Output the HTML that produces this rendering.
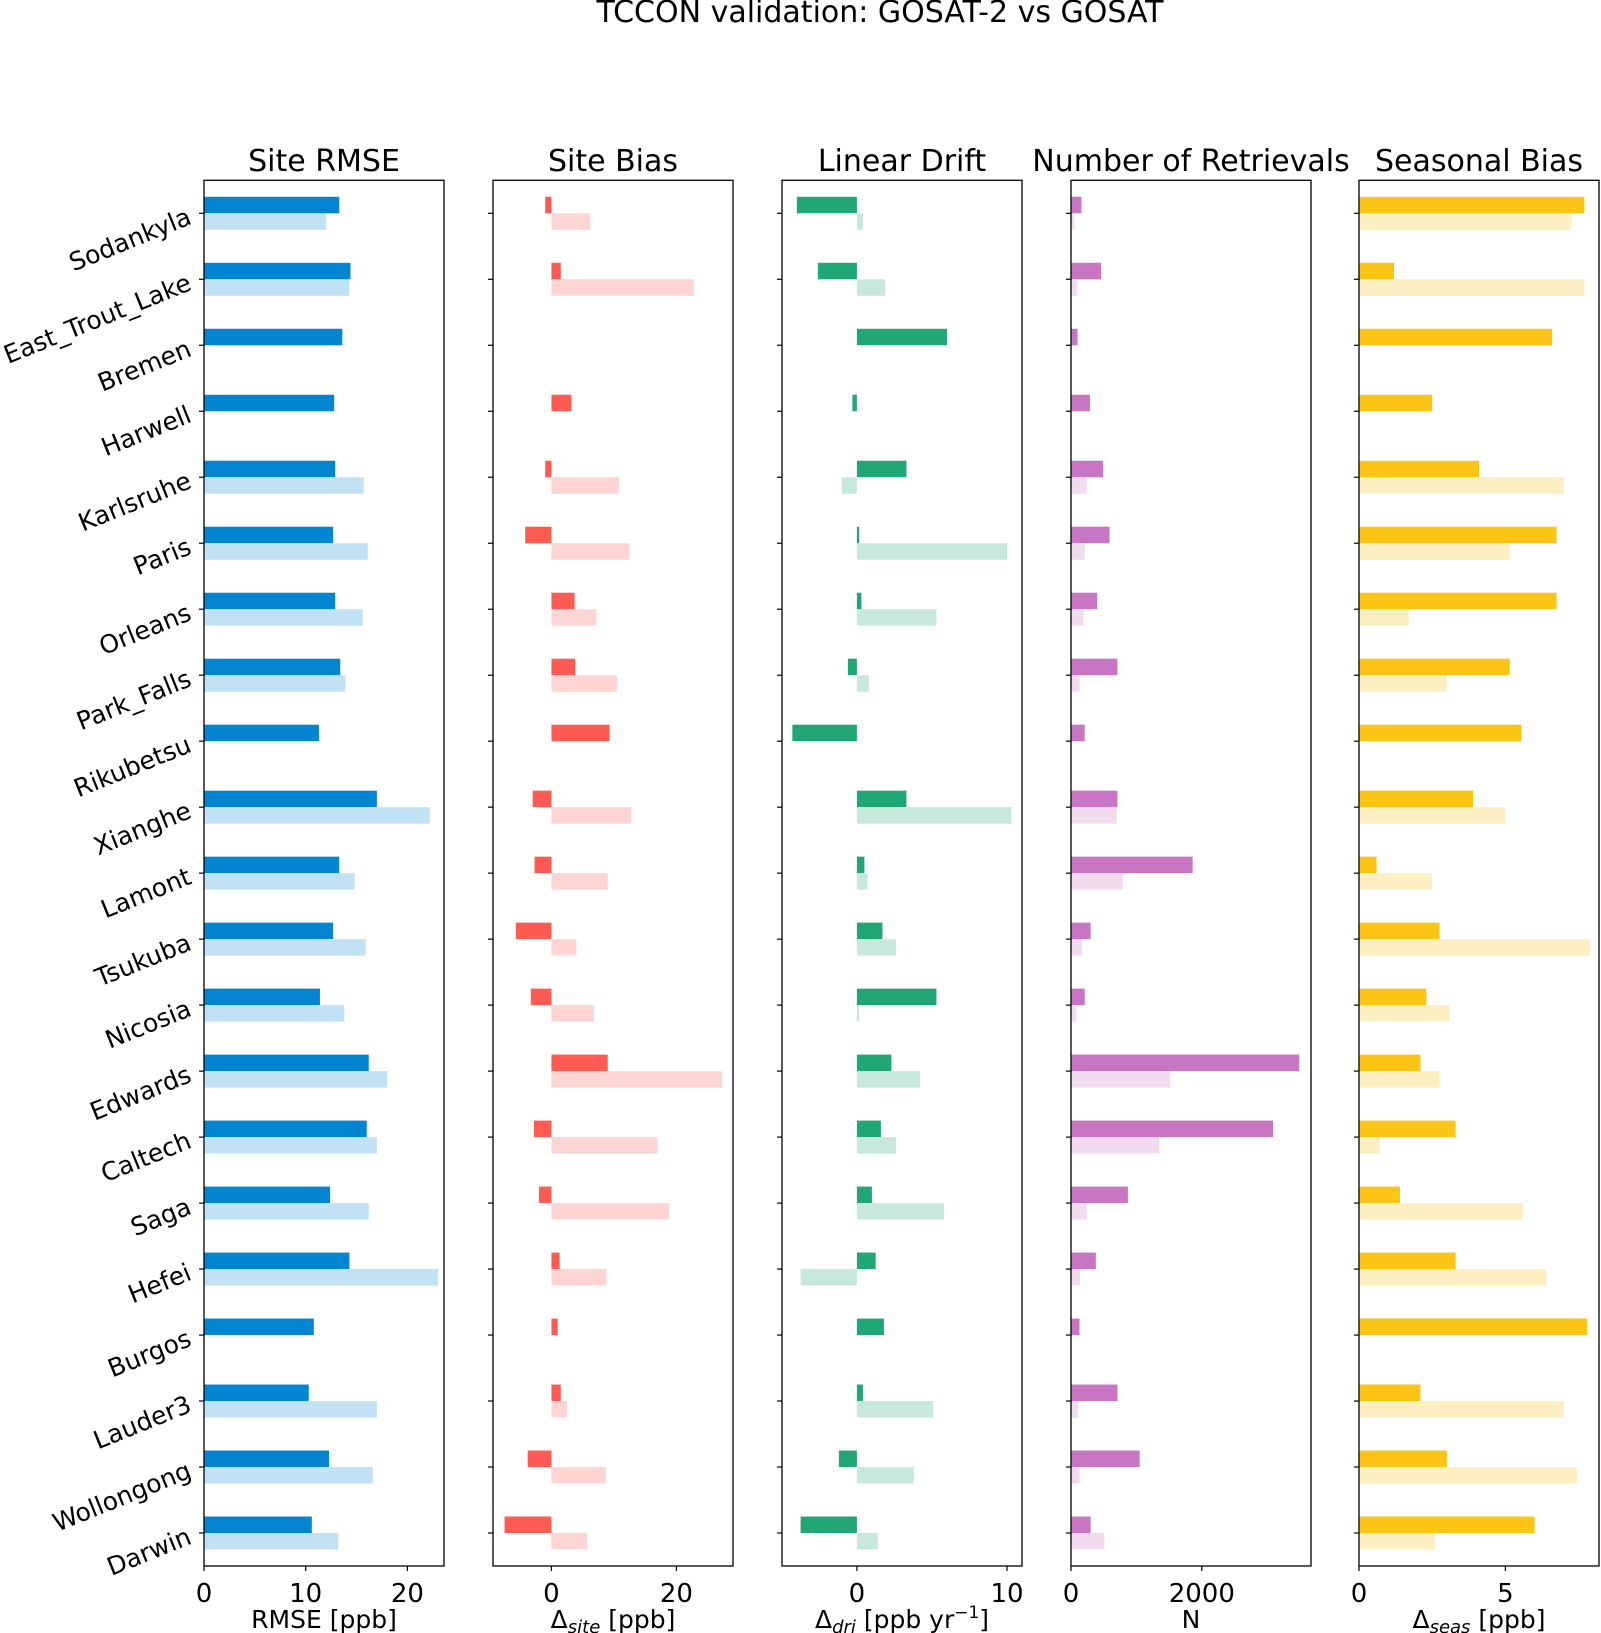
<!DOCTYPE html>
<html><head><meta charset="utf-8"><style>
html,body{margin:0;padding:0;background:#fff;}
svg{display:block;font-family:"DejaVu Sans","Liberation Sans",sans-serif;}
</style></head><body>
<svg id="fig" width="1601" height="1633" viewBox="0 0 1601 1633" xmlns="http://www.w3.org/2000/svg">
<text x="880" y="22" font-size="30" text-anchor="middle">TCCON validation: GOSAT-2 vs GOSAT</text>
</svg>
<script>
const sites = ["Sodankyla","East_Trout_Lake","Bremen","Harwell","Karlsruhe","Paris","Orleans","Park_Falls","Rikubetsu","Xianghe","Lamont","Tsukuba","Nicosia","Edwards","Caltech","Saga","Hefei","Burgos","Lauder3","Wollongong","Darwin"];
const rmseG2 = [13.3,14.4,13.6,12.8,12.9,12.7,12.9,13.4,11.3,17.0,13.3,12.7,11.4,16.2,16.0,12.4,14.3,10.8,10.3,12.3,10.6];
const rmseG1 = [12.0,14.3,null,null,15.7,16.1,15.6,13.9,null,22.2,14.8,15.9,13.8,18.0,17.0,16.2,23.0,null,17.0,16.6,13.2];
const biasG2 = [-1.0,1.5,null,3.2,-1.0,-4.2,3.7,3.8,9.3,-3.0,-2.7,-5.7,-3.3,9.0,-2.8,-2.0,1.3,1.0,1.5,-3.8,-7.5];
const biasG1 = [6.2,22.8,null,null,10.8,12.5,7.2,10.5,null,12.8,9.0,4.0,6.8,27.3,17.0,18.8,8.8,null,2.5,8.7,5.7];
const driftG2 = [-4.0,-2.6,6.0,-0.3,3.3,0.15,0.3,-0.6,-4.3,3.3,0.5,1.7,5.3,2.3,1.6,1.0,1.25,1.8,0.4,-1.2,-3.75];
const driftG1 = [0.4,1.9,null,null,-1.0,10.0,5.3,0.8,null,10.3,0.7,2.6,0.15,4.2,2.6,5.8,-3.75,null,5.1,3.8,1.4];
const numG2 = [160,460,100,290,490,590,400,710,210,710,1860,300,210,3490,3090,870,380,130,710,1050,300];
const numG1 = [50,100,null,null,240,210,190,130,null,700,790,170,80,1520,1350,240,140,null,110,130,510];
const seasG2 = [7.7,1.2,6.6,2.5,4.1,6.75,6.75,5.15,5.55,3.9,0.6,2.75,2.3,2.1,3.3,1.4,3.3,7.8,2.1,3.0,6.0];
const seasG1 = [7.25,7.7,null,null,7.0,5.15,1.7,3.0,null,5.0,2.5,7.9,3.1,2.75,0.7,5.6,6.4,null,7.0,7.45,2.6];
const ticks1 = [0,10,20], ticks2 = [0,20], ticks3 = [0,10], ticks4 = [0,2000], ticks5 = [0,5];

const NS="http://www.w3.org/2000/svg";
const svg=document.getElementById('fig');
const TOP=180.3, BOT=1566, H=BOT-TOP;
function yScale(i){ return TOP + (i+0.5)/21*H; }
function mk(tag,attrs){const e=document.createElementNS(NS,tag);for(const k in attrs)e.setAttribute(k,attrs[k]);return e;}

const panels=[
 {key:'rmse',title:'Site RMSE',left:204,xmin:0,xmax:23.6,a:rmseG2,b:rmseG1,ticks:ticks1,c1:'#0485d1',c2:'#c1e1f4',xl:'RMSE [ppb]'},
 {key:'bias',title:'Site Bias',left:493,xmin:-9.35,xmax:29.05,a:biasG2,b:biasG1,ticks:ticks2,c1:'#ff5b52',c2:'#ffd5d3',xl:'site'},
 {key:'drift',title:'Linear Drift',left:782,xmin:-4.99,xmax:11.0,a:driftG2,b:driftG1,ticks:ticks3,c1:'#21a675',c2:'#c7e9dc',xl:'dri'},
 {key:'num',title:'Number of Retrievals',left:1071,xmin:0,xmax:3670,a:numG2,b:numG1,ticks:ticks4,c1:'#c875c4',c2:'#f0dbef',xl:'N'},
 {key:'seas',title:'Seasonal Bias',left:1359,xmin:0,xmax:8.2,a:seasG2,b:seasG1,ticks:ticks5,c1:'#fcc515',c2:'#feefc3',xl:'seas'}
];
const W=240;
panels.forEach((p,pi)=>{
  const g=mk('g',{});
  
  
  svg.appendChild(g);
  const x=v=>p.left+(v-p.xmin)/(p.xmax-p.xmin)*W;
  const t=mk('text',{x:p.left+W/2,y:171,'font-size':30,'text-anchor':'middle'});
  
  
  t.textContent=p.title; g.appendChild(t);
  const bh=0.25/21*H;
  sites.forEach((s,i)=>{
    const yc=yScale(i);
    if(p.a[i]!=null){
      const v=p.a[i], x0=x(0), x1=x(v);
      const r=mk('rect',{x:Math.min(x0,x1),y:yc-bh,width:Math.abs(x1-x0),height:bh,fill:p.c1});
      
      
      g.appendChild(r);
    }
    if(p.b[i]!=null){
      const v=p.b[i], x0=x(0), x1=x(v);
      const r=mk('rect',{x:Math.min(x0,x1),y:yc,width:Math.abs(x1-x0),height:bh,fill:p.c2});
      
      
      g.appendChild(r);
    }
    const tk=mk('line',{x1:p.left-5,x2:p.left,y1:yc,y2:yc,stroke:'#000','stroke-width':1.2});
    
    
    g.appendChild(tk);
    if(pi===0){
      const lx=193, ly=yc+10;
      const lt=mk('text',{x:lx,y:ly,'font-size':25,'text-anchor':'end',transform:`rotate(-22 ${lx} ${ly})`});
      
      
      lt.textContent=s; g.appendChild(lt);
    }
  });
  const fr=mk('rect',{x:p.left,y:TOP,width:W,height:H,fill:'none',stroke:'#000','stroke-width':1.3});
  
  
  g.appendChild(fr);
  p.ticks.forEach(v=>{
    const xx=x(v);
    const l=mk('line',{x1:xx,x2:xx,y1:BOT,y2:BOT+5,stroke:'#000','stroke-width':1.2});
    
    
    g.appendChild(l);
    const tt=mk('text',{x:xx,y:1602,'font-size':26,'text-anchor':'middle'});
    
    
    tt.textContent=v; g.appendChild(tt);
  });
  const xl=mk('text',{x:p.left+W/2,y:1628,'font-size':25,'text-anchor':'middle'});
  
  
  if(p.key==='rmse'||p.key==='num'){ xl.textContent=p.xl; }
  else {
    const d=mk('tspan',{}); d.textContent='Δ'; xl.appendChild(d);
    const s=mk('tspan',{'font-size':18,'font-style':'italic',dy:5}); s.textContent=p.xl; xl.appendChild(s);
    const r=mk('tspan',{dy:-5});
    if(p.key==='drift'){ r.textContent=' [ppb yr'; xl.appendChild(r);
      const sp=mk('tspan',{'font-size':17,dy:-10}); sp.textContent='−1'; xl.appendChild(sp);
      const e=mk('tspan',{dy:10}); e.textContent=']'; xl.appendChild(e);
    } else { r.textContent=' [ppb]'; xl.appendChild(r); }
  }
  g.appendChild(xl);
});
</script>
</body></html>
